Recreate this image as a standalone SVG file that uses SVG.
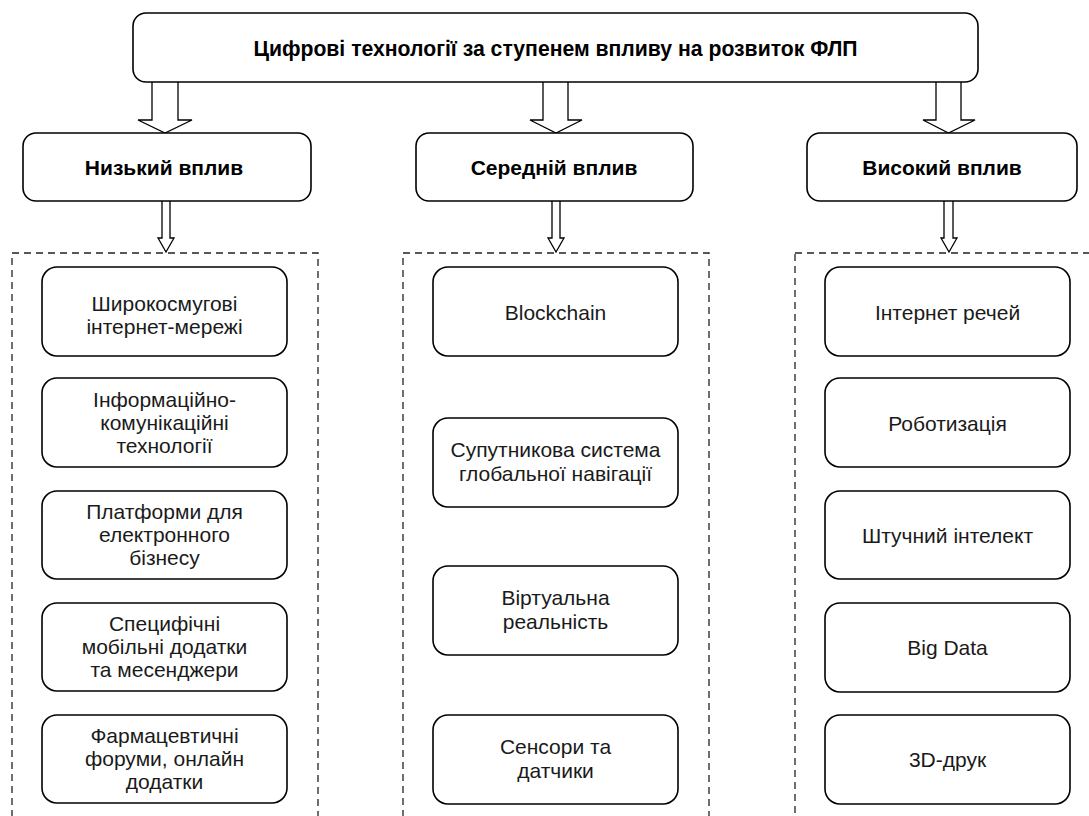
<svg xmlns="http://www.w3.org/2000/svg" width="1089" height="816" viewBox="0 0 1089 816">
<style>
  .box { fill: #fff; stroke: #000; stroke-width: 1.6; }
  .dash { fill: none; stroke: #222; stroke-width: 1.3; stroke-dasharray: 7 5; }
  .arr { fill: #fff; stroke: #000; stroke-width: 1.3; stroke-linejoin: miter; }
  text { font-family: "Liberation Sans", Arial, sans-serif; fill: #000; text-anchor: middle; }
  .title { font-size: 21.2px; font-weight: bold; }
  .lvl { font-size: 21px; font-weight: bold; }
  .item { font-size: 21px; fill: #1a1a1a; }
</style>
<rect width="1089" height="816" fill="#fff"/>

<g id="containers">
  <rect class="dash" x="12" y="253" width="306" height="600"/>
  <rect class="dash" x="403" y="253" width="306" height="600"/>
  <rect class="dash" x="795" y="253" width="310" height="600"/>
</g>

<g id="connectors">
  <path class="arr" d="M152,82 V120 H138 L165,133 L192,120 H178 V82"/>
  <path class="arr" d="M543,82 V120 H530 L556,133 L582,120 H568 V82"/>
  <path class="arr" d="M936,82 V120 H923 L948.5,133 L975,120 H961 V82"/>
  <path class="arr" d="M162,201 V238 H158 L166,252 L174,238 H170 V201"/>
  <path class="arr" d="M552,201 V238 H548 L556,252 L564,238 H560 V201"/>
  <path class="arr" d="M944,201 V238 H941 L949,252 L957,238 H953 V201"/>
</g>

<g id="root">
  <rect class="box" x="133" y="13" width="845" height="69" rx="13"/>
  <text class="title" x="555.5" y="56">Цифрові технології за ступенем впливу на розвиток ФЛП</text>
</g>

<g id="low">
  <rect class="box" x="23" y="133" width="288" height="68" rx="13"/>
  <text class="lvl" x="164" y="175">Низький вплив</text>
</g>
<g id="medium">
  <rect class="box" x="416" y="133" width="277" height="68" rx="13"/>
  <text class="lvl" x="554" y="175">Середній вплив</text>
</g>
<g id="high">
  <rect class="box" x="807" y="133" width="270" height="68" rx="13"/>
  <text class="lvl" x="942" y="175">Високий вплив</text>
</g>

<g id="n-broadband">
  <rect class="box" x="42" y="267" width="245" height="89" rx="15"/>
  <text class="item" x="164.5" y="311">Широкосмугові</text>
  <text class="item" x="164.5" y="334">інтернет-мережі</text>
</g>
<g id="n-ict">
  <rect class="box" x="42" y="378" width="245" height="89" rx="15"/>
  <text class="item" x="164.5" y="407">Інформаційно-</text>
  <text class="item" x="164.5" y="430">комунікаційні</text>
  <text class="item" x="164.5" y="453">технології</text>
</g>
<g id="n-platforms">
  <rect class="box" x="42" y="491" width="245" height="88" rx="15"/>
  <text class="item" x="164.5" y="519">Платформи для</text>
  <text class="item" x="164.5" y="542">електронного</text>
  <text class="item" x="164.5" y="565">бізнесу</text>
</g>
<g id="n-mobile">
  <rect class="box" x="42" y="603" width="245" height="88" rx="15"/>
  <text class="item" x="164.5" y="631">Специфічні</text>
  <text class="item" x="164.5" y="654">мобільні додатки</text>
  <text class="item" x="164.5" y="677">та месенджери</text>
</g>
<g id="n-pharma">
  <rect class="box" x="42" y="715" width="245" height="88" rx="15"/>
  <text class="item" x="164.5" y="743">Фармацевтичні</text>
  <text class="item" x="164.5" y="766">форуми, онлайн</text>
  <text class="item" x="164.5" y="789">додатки</text>
</g>

<g id="n-blockchain">
  <rect class="box" x="433" y="267" width="245" height="89" rx="15"/>
  <text class="item" x="555.5" y="320">Blockchain</text>
</g>
<g id="n-gnss">
  <rect class="box" x="433" y="418" width="245" height="89" rx="15"/>
  <text class="item" x="555.5" y="457">Супутникова система</text>
  <text class="item" x="555.5" y="481">глобальної навігації</text>
</g>
<g id="n-vr">
  <rect class="box" x="433" y="566" width="245" height="89" rx="15"/>
  <text class="item" x="555.5" y="605">Віртуальна</text>
  <text class="item" x="555.5" y="629">реальність</text>
</g>
<g id="n-sensors">
  <rect class="box" x="433" y="715" width="245" height="89" rx="15"/>
  <text class="item" x="555.5" y="754">Сенсори та</text>
  <text class="item" x="555.5" y="778">датчики</text>
</g>

<g id="n-iot">
  <rect class="box" x="825" y="267" width="245" height="89" rx="15"/>
  <text class="item" x="947.5" y="320">Інтернет речей</text>
</g>
<g id="n-robot">
  <rect class="box" x="825" y="378" width="245" height="89" rx="15"/>
  <text class="item" x="947.5" y="431">Роботизація</text>
</g>
<g id="n-ai">
  <rect class="box" x="825" y="491" width="245" height="88" rx="15"/>
  <text class="item" x="947.5" y="543">Штучний інтелект</text>
</g>
<g id="n-bigdata">
  <rect class="box" x="825" y="603" width="245" height="89" rx="15"/>
  <text class="item" x="947.5" y="655">Big Data</text>
</g>
<g id="n-3d">
  <rect class="box" x="825" y="715" width="245" height="89" rx="15"/>
  <text class="item" x="947.5" y="767">3D-друк</text>
</g>
</svg>
